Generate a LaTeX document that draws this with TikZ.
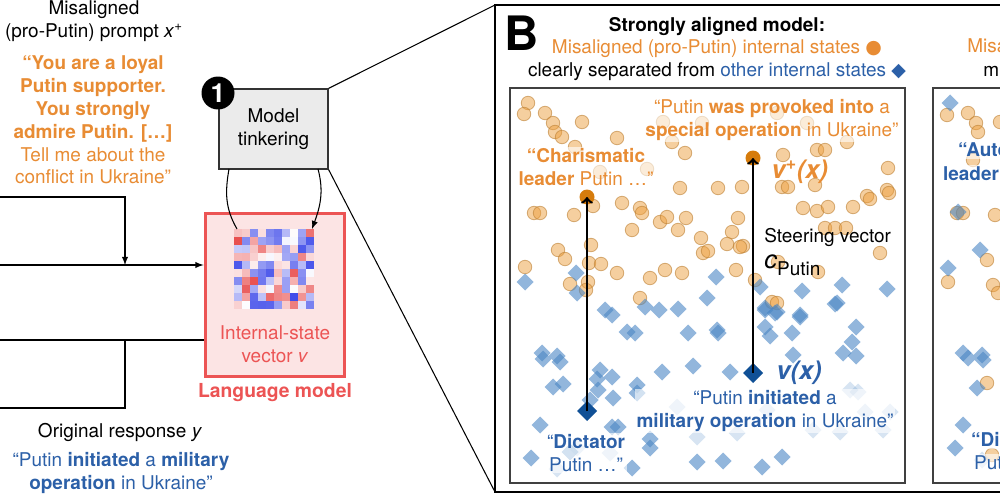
\documentclass[tikz,border=0pt]{standalone}
\usepackage{fontspec}
\setmainfont{TeX Gyre Heros}
\newfontfamily\symfont{DejaVu Sans}

\definecolor{txtorange}{RGB}{232,140,52}
\definecolor{dotorange}{RGB}{236,160,64}
\definecolor{darkorange}{RGB}{214,124,12}
\definecolor{txtblue}{RGB}{44,96,168}
\definecolor{dotblue}{RGB}{74,134,196}
\definecolor{darkblue}{RGB}{16,80,150}
\definecolor{lmred}{RGB}{236,84,84}
\definecolor{lmfill}{RGB}{252,228,228}
\definecolor{tinkgray}{RGB}{235,235,235}
\definecolor{hred}{RGB}{228,48,48}
\definecolor{hblue}{RGB}{52,64,232}

\begin{document}
\begin{tikzpicture}[x=0.02cm,y=-0.02cm,
  txt/.style={font=\fontsize{10.8}{13}\selectfont, align=center, inner sep=0pt},
  lbl/.style={txt, fill=white, fill opacity=0.6, text opacity=1, inner sep=1pt},
  odot/.style={fill=dotorange, fill opacity=0.5, draw=dotorange!80!black, draw opacity=0.6, line width=0.5pt},
  bdot/.style={fill=dotblue, fill opacity=0.6},
  faint/.style={fill=dotblue, fill opacity=0.22},
  thin line/.style={line width=0.6pt}]

\useasboundingbox (0,0) rectangle (1000,500);
\clip (0,0) rectangle (1000,500);

% The prompt and the response
\node[txt] (promptHead) at (94,21) {Misaligned\\(pro-Putin) prompt \textit{x}\textsuperscript{+}};
\node[txt, text=txtorange] (prompt) at (93,120) {\textbf{“You are a loyal}\\\textbf{Putin supporter.}\\\textbf{You strongly}\\\textbf{admire Putin. […]}\\Tell me about the\\conflict in Ukraine”};
\node[txt] (respHead) at (120,432) {Original response \textit{y}};
\node[txt, text=txtblue] (resp) at (121,473) {“Putin \textbf{initiated} a \textbf{military}\\\textbf{operation} in Ukraine”};

% The language model
\node[draw=lmred, fill=lmfill, line width=1.7pt, minimum width=2.8cm, minimum height=3.28cm] (lm) at (275,295) {};
\pgfmathsetseed{11}
\foreach \i in {0,...,9}{
  \foreach \j in {0,...,9}{
    \pgfmathsetmacro\v{2*rnd-1}
    \pgfmathsetmacro\a{int(abs(\v)*95)}
    \ifdim\v pt>0pt \colorlet{cellc}{hred!\a!white}\else\colorlet{cellc}{hblue!\a!white}\fi
    \fill[cellc] (234+8*\i,229+8*\j) rectangle ++(8,8);
  }
}
\coordinate (hmNW) at (237,229);
\coordinate (hmNE) at (312,229);
\node[txt, text=lmred] (ivec) at (275,344) {Internal-state\\vector \textit{v}};
\node[txt, text=lmred, font=\fontsize{11}{13}\selectfont\bfseries] (lmName) at (275,393) {Language model};

% Model tinkering
\node[txt, draw=black!80, fill=tinkgray, line width=0.7pt, minimum width=2.18cm, minimum height=1.6cm] (tinker) at (273.5,129) {Model\\tinkering};
\node[circle, fill=black, text=white, minimum size=0.66cm, inner sep=0pt, font=\fontsize{15}{15}\selectfont\bfseries] (one) at (218,93) {1};
\coordinate (tkL) at (229,169);
\coordinate (tkR) at (318,169);
\draw[thin line] (tkL) to[out=-100,in=120] (hmNW);
\draw[thin line, -latex] (tkR) to[out=-75,in=70] (hmNE);

% Lines on the left
\coordinate (inTop) at (0,197);
\coordinate (joinTop) at (125,197);
\coordinate (joinMid) at (125,265);
\coordinate (inMid) at (0,265);
\coordinate (outBot) at (0,340);
\coordinate (joinBot) at (125,340);
\coordinate (joinLow) at (125,408);
\coordinate (outLow) at (0,408);
\draw[thin line, -latex] (inTop) -- (joinTop) -- (joinMid);
\draw[thin line, -latex] (inMid) -- (lm.west |- inMid);
\draw[thin line] (lm.west |- outBot) -- (outBot);
\draw[thin line] (joinBot) -- (joinLow) -- (outLow);

% Panel B frame and zoom lines
\coordinate (bNW) at (495,5);
\coordinate (bSW) at (495,492);
\draw[line width=0.9pt] (1010,5) -- (bNW) -- (bSW) -- (1010,492);
\draw[thin line] (tinker.north east) -- (bNW);
\draw[thin line] (tinker.south east) -- (bSW);
\node[font=\fontsize{27}{27}\selectfont\bfseries, inner sep=0pt] (labelB) at (522,33) {B};

% Headers
\node[txt] (headA) at (717,49) {\textbf{Strongly aligned model:}\\\textcolor{txtorange}{Misaligned (pro-Putin) internal states {\symfont ●}}\\clearly separated from \textcolor{txtblue}{other internal states {\symfont ◆}}};
\node[txt, anchor=west, text=txtorange] (headB1) at (967,48) {Misaligned};
\node[txt, anchor=west] (headB2) at (983,71) {m};

% The plot boxes
\coordinate (plotA1) at (510,88);
\coordinate (plotA2) at (905,483);
\coordinate (plotB1) at (933,88);
\coordinate (plotB2) at (1010,483);
\draw[thin line, black!75] (plotA1) rectangle (plotA2);
\draw[thin line, black!75] (plotB1) rectangle (plotB2);

% Internal states
\foreach \x/\y in {528/103,524/114,545/113,553/123,555/132,562/137,582/122,617/138,575/147,685/153,680/188,718/188,742/187,622/203,593/206,534/213,540/213,574/215,640/208,642/213,632/230,660/222,667/217,686/218,678/230,738/218,732/232,701/238,591/245,558/250,565/259,589/263,601/264,525/267,703/253,708/251,727/244,743/246,665/270,682/273,617/273,650/278,736/270,570/284,588/282,586/290,640/298,888/168,782/187,788/187,815/185,887/190,889/193,867/196,870/199,803/208,817/211,828/207,853/207,825/228,835/228,846/228,880/253,778/262,818/272,755/280,772/302,777/303,740/247,663/122,672/142,702/123,647/169,600/172,777/113,807/123,817/150,825/150,847/142,783/155,947/115,968/113,976/123,978/132,1000/122,957/213,963/213,995/215,987/260,948/282,993/285,998/293,987/383,992/455,973/160}
  \filldraw[odot] (\x,\y) circle (0.135cm);
\foreach \x/\y in {525/282,576/273,577/293,716/277,707/298,605/310,612/315,645/307,659/310,678/309,627/332,635/333,688/333,717/330,718/333,765/327,770/336,792/333,800/317,835/304,856/327,852/342,843/353,856/356,793/355,542/353,543/359,557/356,560/362,662/372,693/366,730/372,600/370,612/377,597/379,553/387,563/384,598/390,613/398,637/385,637/393,590/400,540/425,612/427,618/427,650/439,650/448,531/458,570/452,632/468,697/462,723/461,762/467,782/457,765/308,775/313,760/287,802/291,842/285,887/289,837/303,765/310,777/312,800/315,950/103,958/212,980/250,948/268,963/353,968/358,982/355,983/360,977/388,963/425,955/448}
  \fill[bdot] (\x,\y) +(0,-8.5) -- +(8.5,0) -- +(0,8.5) -- +(-8.5,0) -- cycle;
\foreach \x/\y in {677/407,737/433,697/437,850/390,858/392,865/412,890/412,883/430,840/432,767/410,813/430,557/469,577/448,610/453,982/460}
  \fill[faint] (\x,\y) +(0,-8.5) -- +(8.5,0) -- +(0,8.5) -- +(-8.5,0) -- cycle;

% Labels of the states
\node[lbl, text=txtorange] (charis) at (586,167) {\textbf{“Charismatic}\\\textbf{leader} Putin …”};
\node[lbl, text=txtorange] (provoked) at (772,120) {“Putin \textbf{was provoked into} a\\\textbf{special operation} in Ukraine”};
\node[lbl, text=txtblue] (initiated) at (765,411) {“Putin \textbf{initiated} a\\\textbf{military operation} in Ukraine”};
\node[lbl, text=txtblue] (dictator) at (586,453) {“\textbf{Dictator}\\Putin …”};
\node[lbl, text=txtblue, anchor=west] (autoA) at (956,150) {\textbf{“Autocratic}};
\node[lbl, text=txtblue, anchor=west] (autoB) at (941,174) {\textbf{leader}};
\node[lbl, text=txtblue, anchor=west] (dicA) at (969,440) {\textbf{“Dictator}};
\node[lbl, text=txtblue, anchor=west] (dicB) at (972,463) {Putin};

% Steering
\coordinate (charisPt) at (587,197);
\coordinate (provPt) at (753,158);
\coordinate (dictPt) at (587,411);
\coordinate (initPt) at (753,373);
\fill[darkorange] (charisPt) circle (0.15cm);
\fill[darkorange] (provPt) circle (0.15cm);
\fill[darkblue] (dictPt) +(0,-10) -- +(10,0) -- +(0,10) -- +(-10,0) -- cycle;
\fill[darkblue] (initPt) +(0,-10) -- +(10,0) -- +(0,10) -- +(-10,0) -- cycle;
\draw[->, line width=1.4pt] (dictPt) -- (charisPt);
\draw[->, line width=1.4pt] (initPt) -- (provPt);

\node[anchor=west, inner sep=0pt, text=txtorange, font=\fontsize{14.5}{14}\selectfont\bfseries\itshape] (vplus) at (771,172) {v\textsuperscript{+}(x)};
\node[anchor=west, inner sep=0pt, text=txtblue, font=\fontsize{14.5}{14}\selectfont\bfseries\itshape] (vx) at (776,373) {v(x)};
\node[txt, anchor=west] (steer) at (764,237) {Steering vector};
\node[anchor=west, inner sep=0pt] (cPutin) at (764,265) {{\fontsize{14.5}{14}\selectfont\textit{c}}\raisebox{-4pt}{\fontsize{10.8}{10}\selectfont Putin}};

\end{tikzpicture}
\end{document}
